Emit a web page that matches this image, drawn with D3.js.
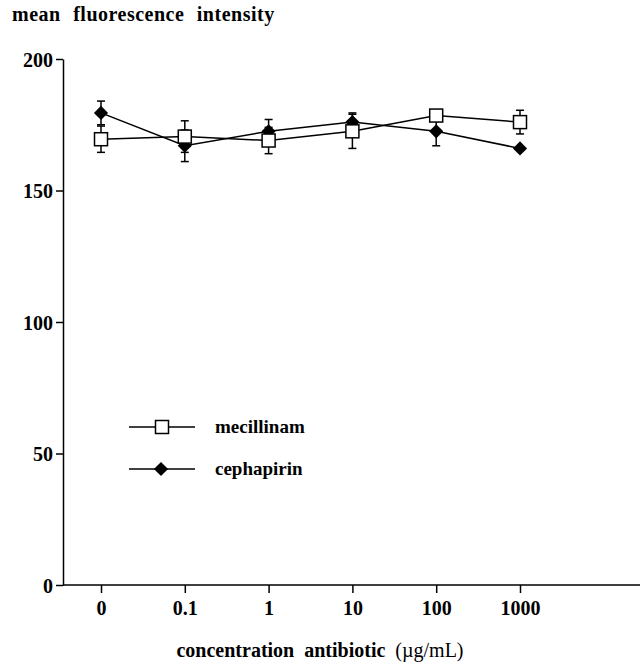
<!DOCTYPE html>
<head>
    <meta charset="utf-8">
    <script src="https://d3js.org/d3.v7.min.js"></script>
    <style>
        body { margin:0; background:#fff; }
        text { font-family: "Liberation Serif", "DejaVu Serif", serif; font-weight: bold; fill: #000; }
        .axis path, .axis line { stroke: #000; stroke-width: 1.5; }
        .axis text { font-size: 20px; font-family: "Liberation Serif", serif; font-weight: bold; }
        .series { fill: none; stroke: #000; stroke-width: 1.5; }
        .err { stroke: #000; stroke-width: 1.5; }
    </style>
</head>
<body>
<script>
    // concentrations (ug/mL) on the x axis
    var concentrations = ['0', '0.1', '1', '10', '100', '1000'];
    var yTicks = [0, 50, 100, 150, 200];

    var mecillinam = [169.5, 170.5, 169, 172.5, 178.5, 176];
    var mecillinamErr = [5, 6, 5, 6.5, 2, 4.5];
    var cephapirin = [179.5, 167, 172.5, 176, 172.5, 166];
    var cephapirinErr = [4.5, 6, 4.5, 3.5, 5.5, 0];

    var width = 643, height = 668;

    var svg = d3.select('body').append('svg')
        .attr('width', width)
        .attr('height', height);

    var x = d3.scalePoint().domain(concentrations).range([101, 520]);
    var y = d3.scaleLinear().domain([0, 200]).range([585, 59]);

    // y axis
    svg.append('g')
        .attr('class', 'axis')
        .attr('transform', 'translate(63,0)')
        .call(d3.axisLeft(y).tickValues(yTicks).tickSize(7).tickSizeOuter(0).tickPadding(3))
        .call(g => g.selectAll('text').attr('dy', '0.35em'));

    // x axis: base line spans the full plot width
    svg.append('line')
        .attr('x1', 63).attr('x2', 640)
        .attr('y1', 585).attr('y2', 585)
        .attr('stroke', '#000').attr('stroke-width', 1.5);

    var xAxis = svg.append('g')
        .attr('class', 'axis')
        .attr('transform', 'translate(0,585)')
        .call(d3.axisBottom(x).tickSize(8).tickPadding(8));
    xAxis.select('.domain').remove();

    // titles
    svg.append('text')
        .attr('x', 12).attr('y', 21)
        .style('font-size', '20px')
        .style('letter-spacing', '0.5px')
        .style('word-spacing', '7px')
        .text('mean fluorescence intensity');

    var xl = svg.append('text')
        .attr('x', 320).attr('y', 657)
        .attr('text-anchor', 'middle')
        .style('font-size', '20px')
        .style('word-spacing', '5px');
    xl.append('tspan').text('concentration antibiotic ');
    xl.append('tspan').style('font-weight', 'normal').text('(\u00b5g/mL)');

    var line = d3.line()
        .x((d, i) => x(concentrations[i]))
        .y(d => y(d));

    function drawErr(vals, errs) {
        vals.forEach((v, i) => {
            var e = errs[i];
            if (!e) return;
            var cx = x(concentrations[i]);
            svg.append('line').attr('class', 'err')
                .attr('x1', cx).attr('x2', cx)
                .attr('y1', y(v - e)).attr('y2', y(v + e));
            [v - e, v + e].forEach(b => {
                svg.append('line').attr('class', 'err')
                    .attr('x1', cx - 4).attr('x2', cx + 4)
                    .attr('y1', y(b)).attr('y2', y(b));
            });
        });
    }

    drawErr(cephapirin, cephapirinErr);
    drawErr(mecillinam, mecillinamErr);

    svg.append('path').datum(cephapirin).attr('class', 'series').attr('d', line);
    svg.append('path').datum(mecillinam).attr('class', 'series').attr('d', line);

    var diamond = d3.symbol().type(d3.symbolSquare).size(100);

    svg.selectAll('.dia')
        .data(cephapirin)
        .enter().append('path')
        .attr('class', 'dia')
        .attr('transform', (d, i) => 'translate(' + x(concentrations[i]) + ',' + y(d) + ') rotate(45)')
        .attr('d', diamond)
        .attr('fill', '#000');

    svg.selectAll('.sq')
        .data(mecillinam)
        .enter().append('rect')
        .attr('class', 'sq')
        .attr('x', (d, i) => x(concentrations[i]) - 6.5)
        .attr('y', d => y(d) - 6.5)
        .attr('width', 13).attr('height', 13)
        .attr('fill', '#fff').attr('stroke', '#000').attr('stroke-width', 1.5);

    // legend
    var legendNames = ['mecillinam', 'cephapirin'];
    var legendY = [427, 469];
    legendNames.forEach((name, i) => {
        var g = svg.append('g').attr('transform', 'translate(0,' + legendY[i] + ')');
        g.append('line').attr('x1', 129).attr('x2', 195).attr('y1', 0).attr('y2', 0)
            .attr('stroke', '#000').attr('stroke-width', 1.5);
        if (i === 0) {
            g.append('rect').attr('x', 155.5).attr('y', -6.5).attr('width', 13).attr('height', 13)
                .attr('fill', '#fff').attr('stroke', '#000').attr('stroke-width', 1.5);
        } else {
            g.append('path').attr('transform', 'translate(161,0) rotate(45)')
                .attr('d', diamond).attr('fill', '#000');
        }
        g.append('text').attr('x', 215).attr('y', 6)
            .style('font-size', '19px')
            .text(name);
    });
</script>
</body>
